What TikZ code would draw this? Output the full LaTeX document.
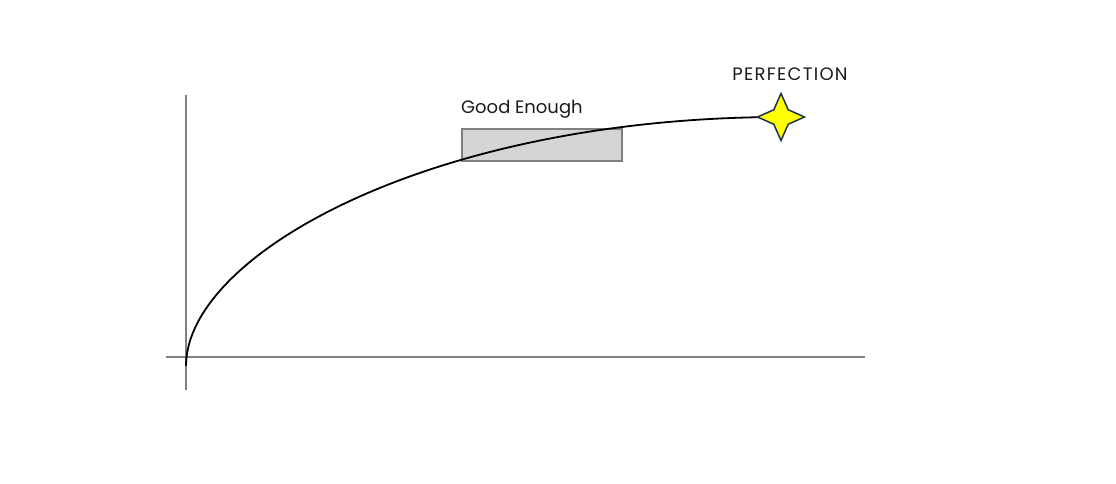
\documentclass[tikz,border=0pt]{standalone}
\usepackage{fontspec}
\setmainfont{Poppins}
\usetikzlibrary{shapes.geometric}
\definecolor{axisgray}{HTML}{808080}
\definecolor{boxgray}{HTML}{D5D5D5}
\definecolor{staryellow}{HTML}{FFFF00}
\definecolor{starline}{HTML}{1A3347}
\definecolor{body}{HTML}{1A1A1A}

\begin{document}
\begin{tikzpicture}[x=1pt, y=-1pt,
  axis/.style={draw=axisgray, line width=1.5pt},
  label/.style={font=\fontsize{18}{21}\selectfont, text=body, inner sep=0pt}]
  \useasboundingbox (0,0) rectangle (1116,483);
  % axes
  \coordinate (ytop) at (186,95);
  \coordinate (ybot) at (186,390);
  \coordinate (xleft) at (166,357);
  \coordinate (xright) at (865,357);
  \coordinate (origin) at (186,366);
  \coordinate (peak) at (781,117);
  \draw[axis] (ytop) -- (ybot);
  \draw[axis] (xleft) -- (xright);
  % good enough band
  \node[draw=axisgray, fill=boxgray, line width=1.5pt, minimum width=160pt, minimum height=32pt,
        inner sep=0pt, anchor=north west] (good) at (461,128) {};
  \node[label, anchor=base west] (goodlabel) at (461,113) {Good Enough};
  % effort curve
  \draw[line width=1.8pt] (origin) .. controls (186,255) and (430,117.5) .. (peak);
  % perfection
  \node[star, star points=4, star point ratio=2.3, minimum size=47pt, inner sep=0pt,
        fill=staryellow, draw=starline, line width=1.5pt] (perfection) at (peak) {};
  \node[label, anchor=base, font=\fontsize{18}{21}\selectfont\addfontfeatures{LetterSpace=7}]
        (perflabel) at (790,80) {PERFECTION};
\end{tikzpicture}
\end{document}
